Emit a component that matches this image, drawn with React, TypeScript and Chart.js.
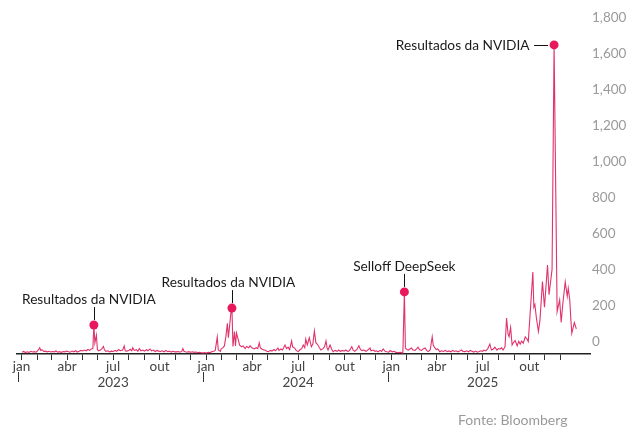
import { useEffect, useRef } from 'react';
import { Chart, registerables } from 'chart.js';

Chart.register(...registerables);

// daily readings, sampled from the source chart
const dates2023 = [
  '2023-01-02', '2023-01-05', '2023-01-09', '2023-01-12', '2023-01-16', '2023-01-19', '2023-01-23', '2023-01-26', '2023-01-30',
  '2023-02-02', '2023-02-06', '2023-02-08', '2023-02-10', '2023-02-14', '2023-02-17', '2023-02-21', '2023-02-24', '2023-02-28',
  '2023-03-03', '2023-03-07', '2023-03-10', '2023-03-14', '2023-03-17', '2023-03-21', '2023-03-24', '2023-03-28', '2023-03-31',
  '2023-04-04', '2023-04-07', '2023-04-11', '2023-04-14', '2023-04-18', '2023-04-21', '2023-04-25', '2023-04-28',
  '2023-05-02', '2023-05-05', '2023-05-09', '2023-05-12', '2023-05-16', '2023-05-19', '2023-05-22', '2023-05-24', '2023-05-26', '2023-05-29', '2023-05-31',
  '2023-06-02', '2023-06-06', '2023-06-09', '2023-06-12', '2023-06-14', '2023-06-17', '2023-06-21', '2023-06-24', '2023-06-28',
  '2023-07-01', '2023-07-05', '2023-07-08', '2023-07-12', '2023-07-15', '2023-07-20', '2023-07-23', '2023-07-25', '2023-07-28',
  '2023-08-01', '2023-08-04', '2023-08-07', '2023-08-09', '2023-08-12', '2023-08-16', '2023-08-19', '2023-08-22', '2023-08-25', '2023-08-29',
  '2023-09-01', '2023-09-05', '2023-09-08', '2023-09-12', '2023-09-15', '2023-09-19', '2023-09-22', '2023-09-26', '2023-09-29',
  '2023-10-03', '2023-10-06', '2023-10-10', '2023-10-13', '2023-10-17', '2023-10-20', '2023-10-24', '2023-10-27', '2023-10-31',
  '2023-11-03', '2023-11-07', '2023-11-10', '2023-11-14', '2023-11-16', '2023-11-18', '2023-11-21', '2023-11-24', '2023-11-28',
  '2023-12-01', '2023-12-05', '2023-12-08', '2023-12-12', '2023-12-15', '2023-12-19', '2023-12-22', '2023-12-27', '2023-12-29',
];
const values2023 = [
  10, 14, 8, 12, 9, 15, 11, 13, 10,
  18, 35, 20, 24, 14, 16, 12, 15, 11,
  14, 12, 17, 10, 13, 9, 14, 12, 16,
  13, 10, 16, 12, 18, 11, 15, 20,
  17, 22, 18, 25, 20, 28, 30, 161, 62, 105, 25,
  18, 22, 30, 42, 22, 15, 18, 12, 16,
  14, 20, 15, 25, 18, 22, 45, 18, 16,
  20, 26, 18, 35, 20, 24, 15, 30, 18, 22,
  16, 24, 18, 28, 17, 22, 14, 20, 16,
  14, 18, 12, 20, 13, 16, 11, 15, 12,
  12, 14, 10, 16, 30, 15, 12, 10, 13,
  10, 12, 9, 11, 8, 10, 7, 6, 8,
];

const dates2024 = [
  '2024-01-02', '2024-01-05', '2024-01-09', '2024-01-12', '2024-01-16', '2024-01-19', '2024-01-23', '2024-01-25', '2024-01-29', '2024-01-31',
  '2024-02-03', '2024-02-06', '2024-02-09', '2024-02-12', '2024-02-14', '2024-02-19', '2024-02-21', '2024-02-23', '2024-02-26', '2024-02-28',
  '2024-03-01', '2024-03-04', '2024-03-07', '2024-03-11', '2024-03-14', '2024-03-18', '2024-03-21', '2024-03-25', '2024-03-28',
  '2024-04-01', '2024-04-05', '2024-04-09', '2024-04-12', '2024-04-15', '2024-04-17', '2024-04-20', '2024-04-24', '2024-04-26', '2024-04-30',
  '2024-05-03', '2024-05-07', '2024-05-10', '2024-05-14', '2024-05-17', '2024-05-22', '2024-05-24', '2024-05-28', '2024-05-31',
  '2024-06-05', '2024-06-08', '2024-06-11', '2024-06-14', '2024-06-18', '2024-06-20', '2024-06-24', '2024-06-27',
  '2024-07-01', '2024-07-05', '2024-07-08', '2024-07-11', '2024-07-14', '2024-07-16', '2024-07-19', '2024-07-23', '2024-07-27', '2024-07-30',
  '2024-08-02', '2024-08-05', '2024-08-09', '2024-08-12', '2024-08-15', '2024-08-19', '2024-08-22', '2024-08-25', '2024-08-27', '2024-08-29',
  '2024-09-02', '2024-09-05', '2024-09-08', '2024-09-12', '2024-09-16', '2024-09-19', '2024-09-23', '2024-09-26', '2024-09-30',
  '2024-10-03', '2024-10-07', '2024-10-10', '2024-10-15', '2024-10-18', '2024-10-21', '2024-10-25', '2024-10-29',
  '2024-11-01', '2024-11-04', '2024-11-08', '2024-11-12', '2024-11-15', '2024-11-20', '2024-11-22', '2024-11-26', '2024-11-30',
  '2024-12-03', '2024-12-06', '2024-12-10', '2024-12-13', '2024-12-16', '2024-12-20', '2024-12-23', '2024-12-27', '2024-12-30',
];
const values2024 = [
  6, 10, 8, 12, 15, 20, 95, 22, 14, 30,
  34, 45, 95, 170, 90, 230, 255, 42, 125, 45,
  117, 85, 50, 40, 45, 30, 42, 35, 45,
  33, 28, 35, 30, 62, 35, 28, 22, 22, 15,
  13, 20, 16, 25, 18, 33, 20, 28, 22,
  50, 30, 38, 25, 72, 40, 33, 20,
  13, 25, 30, 50, 35, 83, 50, 90, 40, 55,
  128, 63, 50, 35, 22, 30, 40, 72, 35, 22,
  50, 28, 13, 20, 15, 22, 14, 20, 16,
  22, 14, 18, 40, 20, 15, 25, 46,
  25, 19, 22, 15, 20, 33, 18, 22, 15,
  18, 12, 20, 14, 28, 15, 12, 10, 19,
];

const dates2025 = [
  '2025-01-03', '2025-01-07', '2025-01-10', '2025-01-15', '2025-01-20', '2025-01-23', '2025-01-24', '2025-01-27', '2025-01-29',
  '2025-02-01', '2025-02-04', '2025-02-07', '2025-02-10', '2025-02-13', '2025-02-17', '2025-02-20', '2025-02-23', '2025-02-26',
  '2025-03-02', '2025-03-05', '2025-03-09', '2025-03-12', '2025-03-15', '2025-03-19', '2025-03-23', '2025-03-25', '2025-03-28', '2025-03-31',
  '2025-04-03', '2025-04-07', '2025-04-10', '2025-04-14', '2025-04-18', '2025-04-22', '2025-04-25', '2025-04-29',
  '2025-05-02', '2025-05-06', '2025-05-09', '2025-05-13', '2025-05-16', '2025-05-20', '2025-05-23', '2025-05-27', '2025-05-30',
  '2025-06-03', '2025-06-06', '2025-06-10', '2025-06-13', '2025-06-17', '2025-06-20', '2025-06-24', '2025-06-27',
  '2025-07-01', '2025-07-03', '2025-07-07', '2025-07-11', '2025-07-15', '2025-07-18', '2025-07-22', '2025-07-25', '2025-07-29',
  '2025-08-01', '2025-08-04', '2025-08-07', '2025-08-10', '2025-08-14', '2025-08-17', '2025-08-20', '2025-08-22', '2025-08-25', '2025-08-28', '2025-08-31',
  '2025-09-03', '2025-09-07', '2025-09-10', '2025-09-13', '2025-09-16', '2025-09-19', '2025-09-23', '2025-09-26', '2025-09-29',
  '2025-10-08', '2025-10-10', '2025-10-12', '2025-10-15', '2025-10-19', '2025-10-22', '2025-10-27', '2025-10-31',
  '2025-11-06', '2025-11-09', '2025-11-12', '2025-11-15', '2025-11-19', '2025-11-25', '2025-11-30',
  '2025-12-03', '2025-12-06', '2025-12-11', '2025-12-15', '2025-12-17', '2025-12-20', '2025-12-22', '2025-12-24', '2025-12-29',
  '2026-01-02',
];
const values2025 = [
  12, 15, 9, 8, 10, 6, 8, 345, 33,
  25, 22, 28, 33, 22, 20, 28, 38, 24,
  20, 28, 33, 20, 13, 22, 96, 50, 35, 25,
  28, 13, 18, 14, 20, 13, 17, 12,
  20, 14, 18, 12, 16, 22, 14, 13, 18,
  12, 20, 15, 11, 16, 10, 14, 18,
  15, 22, 18, 30, 55, 22, 28, 38, 22,
  30, 27, 35, 22, 40, 200, 110, 96, 148, 50, 65,
  75, 45, 70, 55, 72, 60, 95, 85, 69,
  456, 260, 275, 200, 125, 185, 402, 260,
  494, 330, 400, 470, 1717, 235, 300,
  175, 272, 400, 320, 365, 300, 200, 115, 175,
  140,
];

const annotations = [
  { date: '2023-05-24', label: 'Resultados da NVIDIA' },
  { date: '2024-02-21', label: 'Resultados da NVIDIA' },
  { date: '2025-01-27', label: 'Selloff DeepSeek' },
  { date: '2025-11-19', label: 'Resultados da NVIDIA' },
];

const monthNames = ['jan', 'fev', 'mar', 'abr', 'mai', 'jun', 'jul', 'ago', 'set', 'out', 'nov', 'dez'];
const years = [2023, 2024, 2025];
const source = 'Fonte: Bloomberg';

const dates = [...dates2023, ...dates2024, ...dates2025];
const values = [...values2023, ...values2024, ...values2025];

const DAY = 86400000;
const ORIGIN = Date.UTC(2023, 0, 1);
const toDay = (s: string) => {
  const [y, m, d] = s.split('-').map(Number);
  return (Date.UTC(y, m - 1, d) - ORIGIN) / DAY;
};

const monthTicks: number[] = [];
years.forEach((y) => {
  for (let m = 0; m < 12; m++) monthTicks.push((Date.UTC(y, m, 1) - ORIGIN) / DAY);
});

const FONT = 'Lato';
const LINE = '#e0336b';
const DOT = '#e8185c';

// label placement for each annotation
const annotationLayout = [
  { side: 'top', dx: -5 },
  { side: 'top', dx: -3.5 },
  { side: 'top', dx: 0 },
  { side: 'left', dx: 0 },
];

const overlay = {
  id: 'overlay',
  afterDatasetsDraw(chart: Chart) {
    const { ctx, chartArea } = chart;
    const xs = chart.scales.x;
    const ys = chart.scales.y;
    ctx.save();

    // long ticks under the year starts
    ctx.strokeStyle = '#333';
    ctx.lineWidth = 1;
    years.forEach((y) => {
      const px = Math.round(xs.getPixelForValue(toDay(`${y}-01-01`)) - 3.5) + 0.5;
      ctx.beginPath();
      ctx.moveTo(px, chartArea.bottom + 18);
      ctx.lineTo(px, chartArea.bottom + 28);
      ctx.stroke();
    });

    ctx.font = `13.7px ${FONT}`;
    annotations.forEach((a, i) => {
      const idx = dates.indexOf(a.date);
      const px = xs.getPixelForValue(toDay(a.date));
      const py = ys.getPixelForValue(values[idx]);
      const lay = annotationLayout[i];
      ctx.strokeStyle = '#111';
      ctx.lineWidth = 1;
      ctx.fillStyle = '#1a1a1a';
      ctx.beginPath();
      if (lay.side === 'top') {
        const lx = Math.round(px) + 0.5;
        ctx.moveTo(lx, py - 5);
        ctx.lineTo(lx, py - 18);
        ctx.stroke();
        ctx.textAlign = 'center';
        ctx.textBaseline = 'alphabetic';
        ctx.fillText(a.label, px + lay.dx, py - 21);
      } else {
        const ly = Math.round(py) + 0.5;
        ctx.moveTo(px - 6, ly);
        ctx.lineTo(px - 20, ly);
        ctx.stroke();
        ctx.textAlign = 'right';
        ctx.textBaseline = 'middle';
        ctx.fillText(a.label, px - 24.5, py + 0.5);
      }
      ctx.fillStyle = DOT;
      ctx.beginPath();
      ctx.arc(px, py, 4.5, 0, Math.PI * 2);
      ctx.fill();
    });

    ctx.font = `14px ${FONT}`;
    ctx.fillStyle = '#9a9a9a';
    ctx.textAlign = 'left';
    ctx.textBaseline = 'middle';
    ctx.fillText(source, 458, 420);
    ctx.restore();
  },
};

export default function App() {
  const canvasRef = useRef<HTMLCanvasElement>(null);

  useEffect(() => {
    if (!canvasRef.current) return;

    const chart = new Chart(canvasRef.current, {
      type: 'line',
      data: {
        datasets: [{
          data: dates.map((d, i) => ({ x: toDay(d), y: values[i] })),
          borderColor: LINE,
          borderWidth: 1.1,
          pointRadius: 0,
          tension: 0,
          fill: false,
        }],
      },
      options: {
        responsive: false,
        animation: false,
        layout: { padding: { top: 30, left: 17, right: 0, bottom: 0 } },
        plugins: {
          legend: { display: false },
          tooltip: { enabled: false },
        },
        scales: {
          x: {
            type: 'linear',
            min: -9,
            max: 1124,
            afterBuildTicks: (scale) => {
              scale.ticks = monthTicks.map((value) => ({ value }));
            },
            afterFit: (scale) => {
              scale.height = 89;
            },
            grid: { drawOnChartArea: false, drawTicks: true, tickLength: 6, color: '#333' },
            border: { display: true, color: '#222', width: 1.5 },
            ticks: {
              autoSkip: false,
              maxRotation: 0,
              padding: -1,
              color: '#444',
              font: { family: FONT, size: 13.5, lineHeight: 1.15 },
              callback: (_value, index) => {
                const m = index % 12;
                const y = years[Math.floor(index / 12)];
                if (m === 6) return [monthNames[m], String(y)];
                if (m % 3 === 0) return monthNames[m];
                return '';
              },
            },
          },
          y: {
            position: 'right',
            min: 0,
            max: 1800,
            afterFit: (scale) => {
              scale.width = 41;
            },
            grid: { display: false, drawTicks: false },
            border: { display: false },
            ticks: {
              stepSize: 200,
              padding: 2,
              labelOffset: -12,
              color: '#9a9a9a',
              font: { family: FONT, size: 13.5 },
              callback: (v) => Number(v).toLocaleString('en-US'),
            },
          },
        },
      },
      plugins: [overlay],
    });

    return () => {
      chart.destroy();
    };
  }, []);

  return (
    <div style={{ position: 'absolute', left: 0, top: 0, width: 631, height: 443, background: '#fff' }}>
      <canvas ref={canvasRef} width={631} height={443} style={{ width: 631, height: 443 }} />
    </div>
  );
}
